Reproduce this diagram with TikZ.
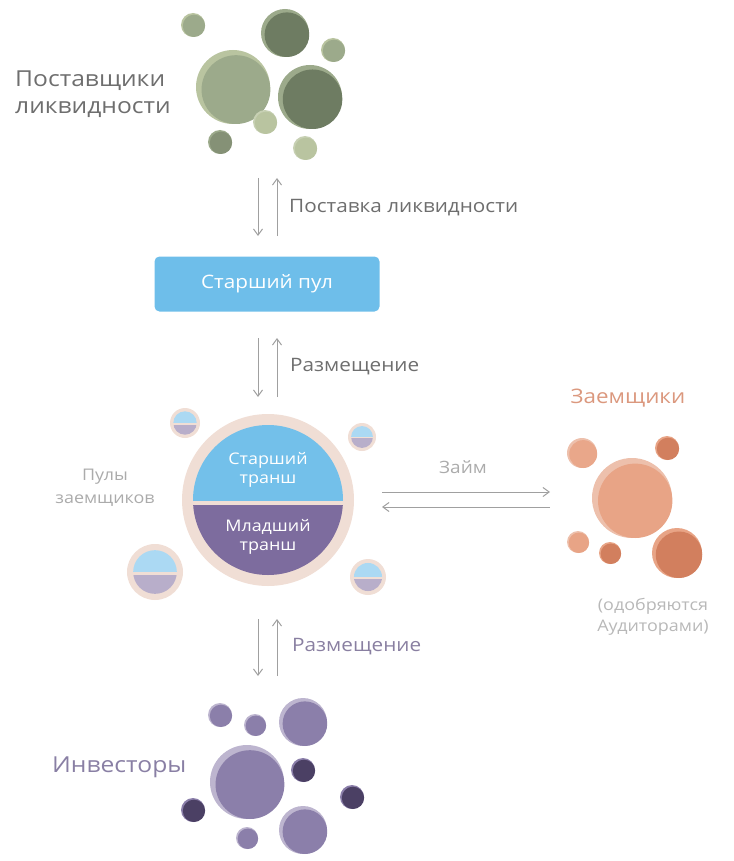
\documentclass[tikz,border=0pt]{standalone}
\usepackage{fontspec}
\setmainfont[FakeStretch=1.12]{Open Sans}
\usetikzlibrary{arrows.meta,positioning}
\definecolor{gLight}{HTML}{B9C4A0}
\definecolor{gMid}{HTML}{9CAA8B}
\definecolor{gDark}{HTML}{6E7C62}
\definecolor{oLight}{HTML}{EDC0AC}
\definecolor{oMid}{HTML}{E8A486}
\definecolor{oDark}{HTML}{D27F5E}
\definecolor{vLight}{HTML}{BDB5CF}
\definecolor{vMid}{HTML}{8B7FAA}
\definecolor{vDark}{HTML}{4B4064}
\definecolor{skyblue}{HTML}{6EBEEA}
\definecolor{trBlue}{HTML}{73C0EA}
\definecolor{trViolet}{HTML}{7D6C9E}
\definecolor{ringc}{HTML}{F0DED5}
\definecolor{txtgray}{HTML}{6E6E6E}
\definecolor{palegray}{HTML}{ABABAB}
\definecolor{arrgray}{HTML}{A0A0A0}

\begin{document}
\begin{tikzpicture}[x=1pt, y=-1pt,
        >={Straight Barb[length=2.2mm, width=3.2mm]},
        flow/.style = {draw=arrgray, line width=1pt, ->},
        lbl/.style = {inner sep=0pt, align=left, font=\fontsize{18.5}{20}\selectfont, text=txtgray, anchor=west},
        title/.style = {inner sep=0pt, align=left, font=\fontsize{22}{27}\selectfont},
        trtext/.style = {inner sep=0pt, align=center, text=white, font=\fontsize{16}{19}\selectfont},
    ]
    \useasboundingbox (0,0) rectangle (733,861);

    % liquidity providers
    \foreach \x/\y/\r/\a/\b in {193/25/12/gLight/gMid, 285/33/24/gMid/gDark, 333/50/12/gLight/gMid,
            233/87/37/gLight/gMid, 310/97/32/gMid/gDark, 265/122/12/gLight!80/gLight,
            220/142/12/gMid/gMid!85!black, 305/148/12/gLight!80/gLight}
        {
            \fill[\a] (\x,\y) circle (\r);
            \fill[\b] (\x+0.08*\r,\y+0.07*\r) circle (0.93*\r);
        }
    \node[title, text=txtgray, anchor=west] (prov) at (15,94) {Поставщики\\ликвидности};

    % senior pool
    \node[rounded corners=5pt, fill=skyblue, minimum width=225pt, minimum height=55pt,
        text=white, font=\fontsize{18.5}{20}\selectfont] (senior) at (267,284) {Старший пул};

    % borrower pools
    \node[circle, fill=ringc, minimum size=172pt, inner sep=0pt] (pools) at (268,500) {};
    \begin{scope}
        \clip (268,500) circle (75);
        \fill[trBlue] (190,420) rectangle (350,501);
        \fill[trViolet] (190,505) rectangle (350,580);
    \end{scope}
    \node[trtext] (sen) at (268,470) {Старший\\транш};
    \node[trtext] (jun) at (268,537) {Младший\\транш};

    \foreach \x/\y/\r in {185/423/15, 362/437/14, 155/572/28, 368/577/18}
        {
            \fill[ringc] (\x,\y) circle (\r);
            \begin{scope}
                \clip (\x,\y) circle (0.78*\r);
                \fill[trBlue!60] (\x-\r,\y-\r) rectangle (\x+\r,\y);
                \fill[trViolet!55] (\x-\r,\y+0.1*\r) rectangle (\x+\r,\y+\r);
            \end{scope}
        }
    \node[inner sep=0pt, align=center, text=palegray, font=\fontsize{16}{23}\selectfont] (plbl) at (105,488) {Пулы\\заемщиков};

    % borrowers
    \foreach \x/\y/\r/\a/\b in {582/453/15/oLight/oMid!90!oLight, 667/448/12/oMid/oDark,
            632/498/40/oLight/oMid, 578/542/11/oLight/oMid, 610/553/11/oMid/oDark,
            677/553/25/oMid/oDark}
        {
            \fill[\a] (\x,\y) circle (\r);
            \fill[\b] (\x+0.08*\r,\y+0.07*\r) circle (0.93*\r);
        }
    \node[inner sep=0pt, text=oDark!80!white, font=\fontsize{20}{24}\selectfont] (borr) at (628,398) {Заемщики};
    \node[inner sep=0pt, align=center, text=palegray!85!white, font=\fontsize{16}{21}\selectfont] (audit) at (653,617) {(одобряются\\Аудиторами)};

    % investors
    \foreach \x/\y/\r/\a/\b in {220/715/12/vLight/vMid, 255/725/11/vLight/vMid, 303/722/24/vLight/vMid,
            247/782/37/vLight/vMid, 303/770/12/vMid/vDark, 352/797/12/vMid/vDark,
            193/810/12/vMid/vDark, 247/838/11/vLight/vMid, 303/830/24/vLight/vMid}
        {
            \fill[\a] (\x,\y) circle (\r);
            \fill[\b] (\x+0.08*\r,\y+0.07*\r) circle (0.93*\r);
        }
    \node[title, text=vMid!85!gray, anchor=west] (inv) at (52,767) {Инвесторы};

    % connectors
    \coordinate (s1) at (258,178); \coordinate (s2) at (258,236);
    \coordinate (s3) at (277,178); \coordinate (s4) at (277,236);
    \coordinate (p1) at (258,338); \coordinate (p2) at (258,397);
    \coordinate (p3) at (277,338); \coordinate (p4) at (277,397);
    \coordinate (i1) at (258,619); \coordinate (i2) at (258,676);
    \coordinate (i3) at (277,619); \coordinate (i4) at (277,676);
    \coordinate (l1) at (382,492); \coordinate (l2) at (550,492);
    \coordinate (l3) at (550,507); \coordinate (l4) at (382,507);

    \draw[flow] (s1) -- (s2);
    \draw[flow] (s4) -- (s3);
    \draw[flow] (p1) -- (p2);
    \draw[flow] (p4) -- (p3);
    \draw[flow] (i1) -- (i2);
    \draw[flow] (i4) -- (i3);
    \draw[flow] (l1) -- (l2);
    \draw[flow] (l3) -- (l4);

    \node[lbl] (supply) at (289,208) {Поставка ликвидности};
    \node[lbl] (place1) at (290,367) {Размещение};
    \node[inner sep=0pt, text=palegray, font=\fontsize{17}{20}\selectfont] (loan) at (463,467) {Займ};
    \node[lbl, text=vMid!80!gray] (place2) at (292,647) {Размещение};
\end{tikzpicture}
\end{document}
